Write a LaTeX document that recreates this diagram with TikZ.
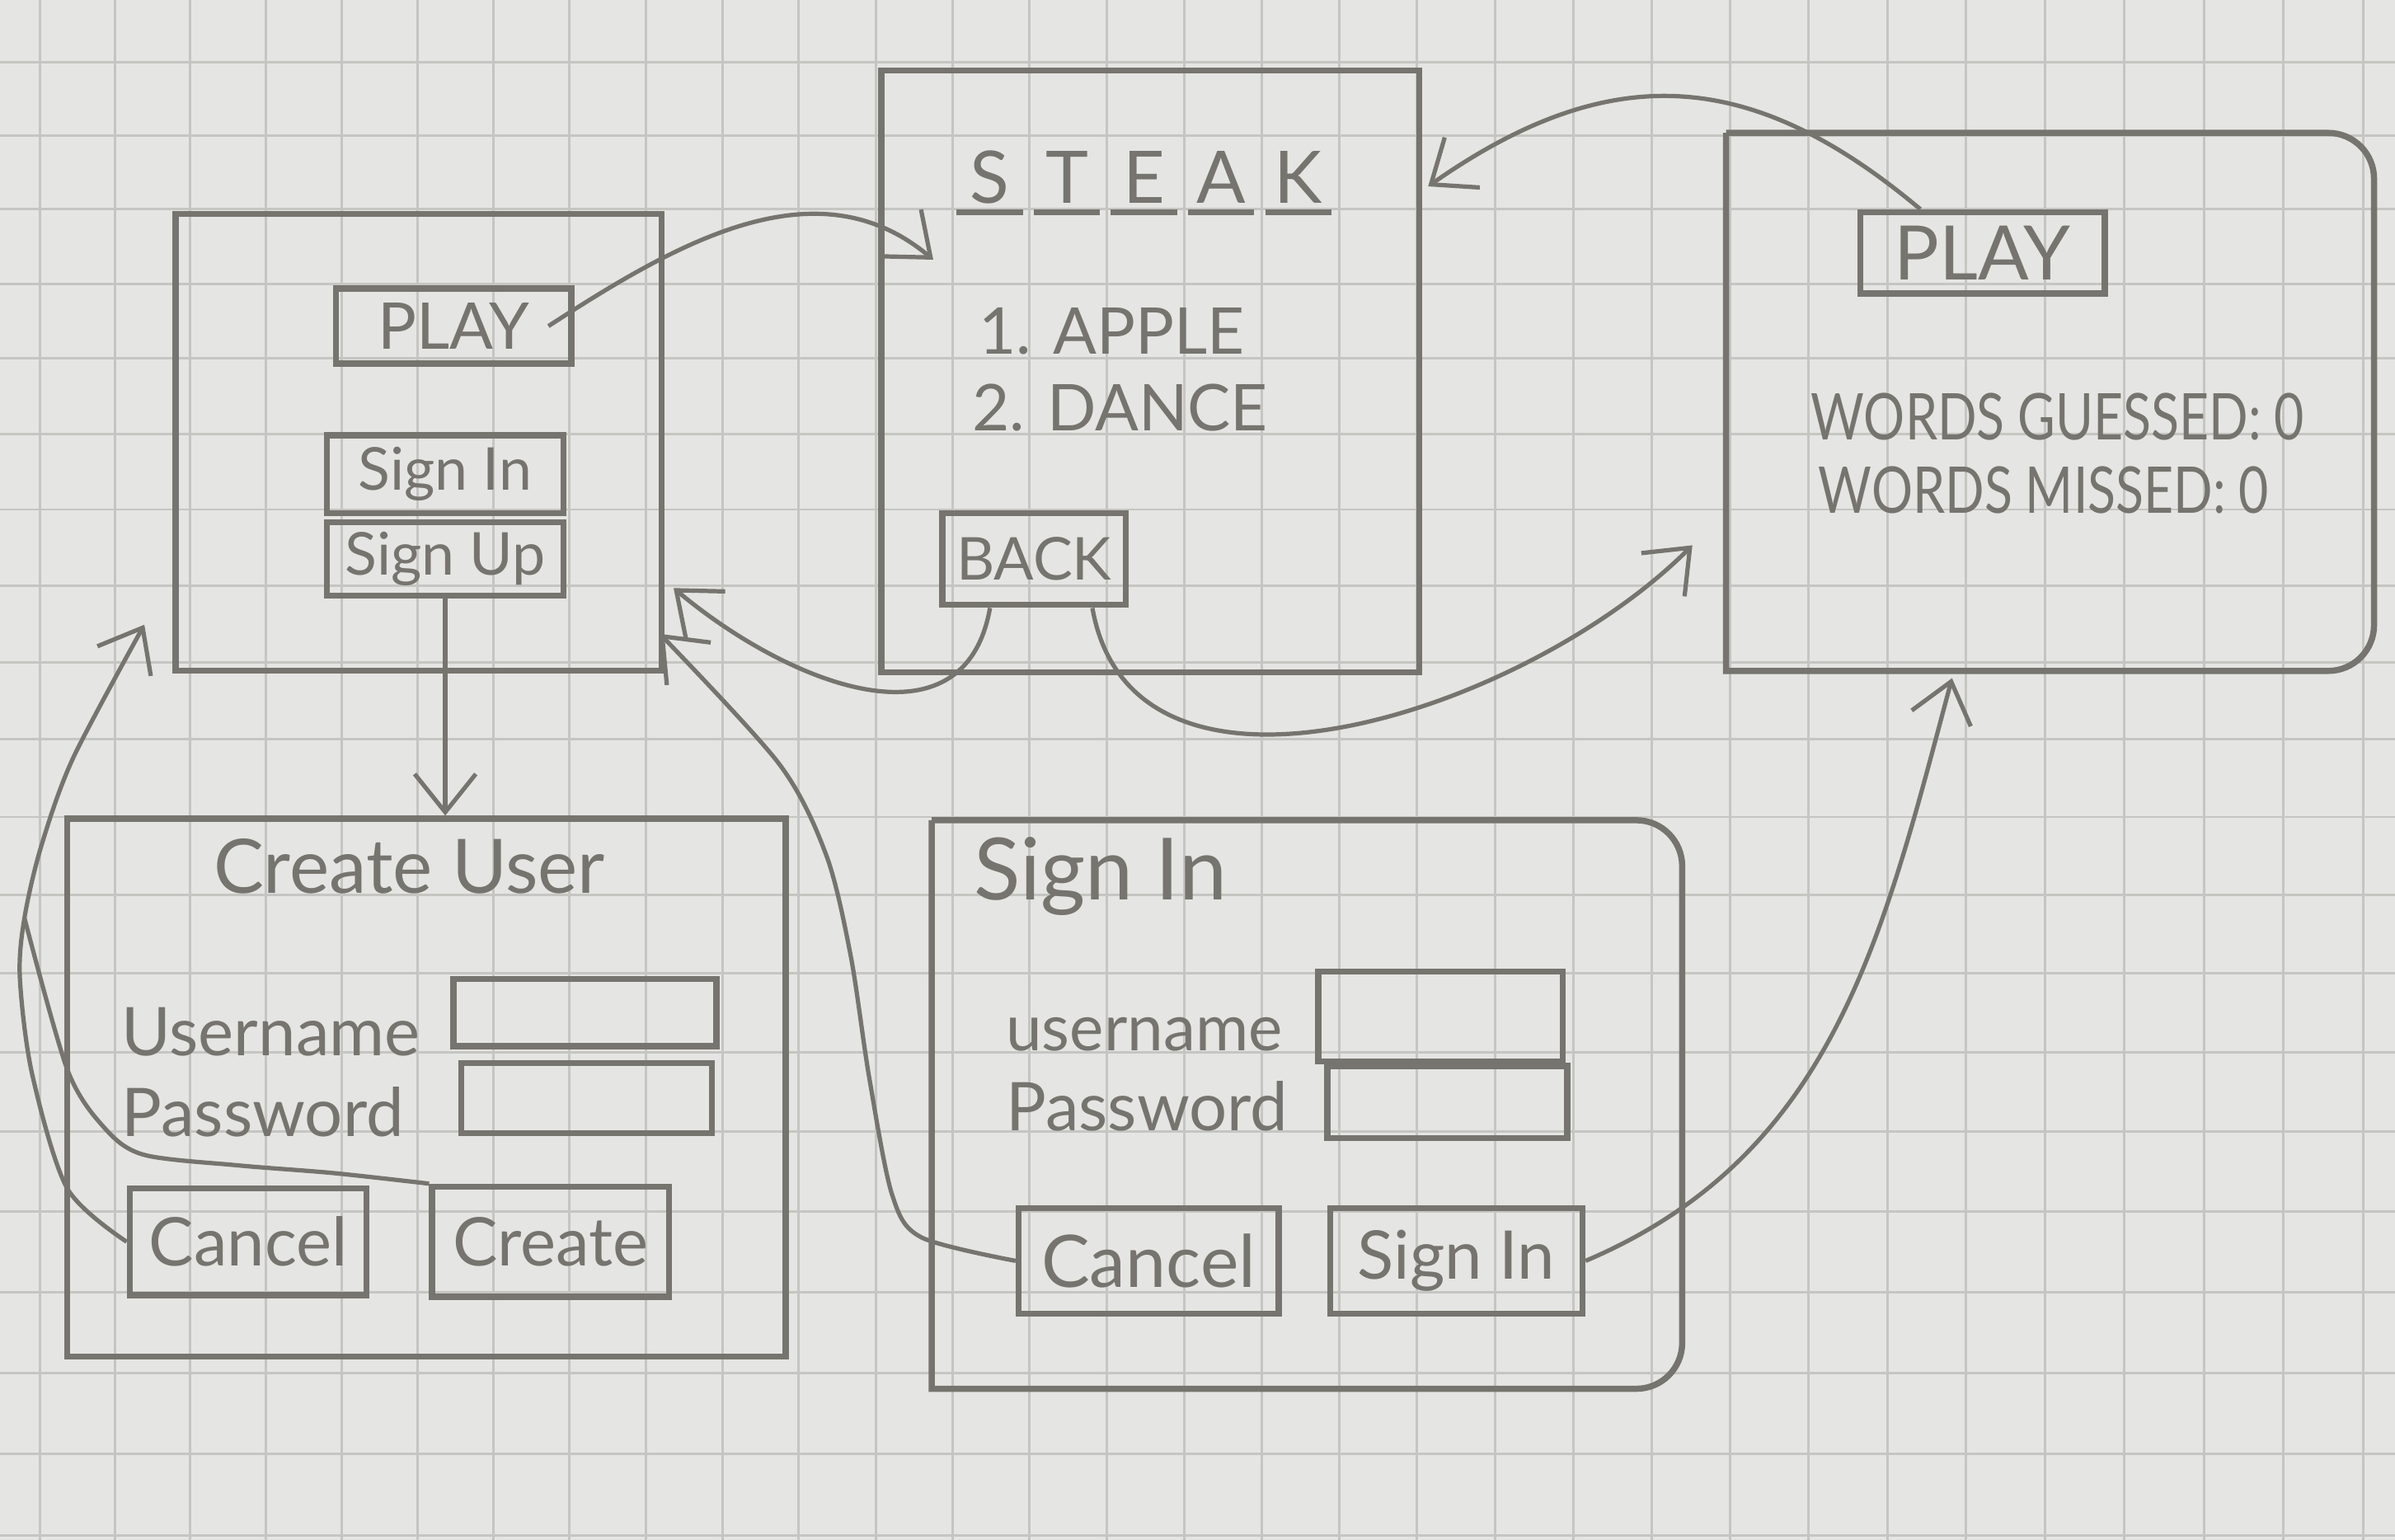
\documentclass[tikz,border=0pt]{standalone}
\usepackage{fontspec}
\setmainfont{Lato}
\newfontfamily\narrowhand{Lato}[FakeStretch=0.8]
\usetikzlibrary{arrows.meta,positioning}
\definecolor{paper}{RGB}{229,229,227}
\definecolor{gridc}{RGB}{197,197,194}
\definecolor{ink}{RGB}{118,116,110}
\newcommand\handsize[1]{\fontsize{#1}{#1}\selectfont}
\tikzset{>/.tip={Straight Barb[length=0.25cm,width=0.4cm]},
  gridline/.style={draw=gridc, line width=0.45pt},
  edge/.style={draw=ink, line width=1.15pt},
  screen/.style 2 args={edge, minimum width=#1, minimum height=#2, anchor=north west, inner sep=0pt},
  btn/.style 2 args={edge, minimum width=#1, minimum height=#2, inner sep=0pt, text=ink},
  lbl/.style={text=ink, inner sep=0pt},
  link/.style={draw=ink, line width=0.8pt, ->},
  strand/.style={draw=ink, line width=0.8pt}}

\begin{document}
\begin{tikzpicture}[x=0.01cm, y=0.01cm]
\useasboundingbox (0,0) rectangle (1568,-1008);
\fill[paper] (0,0) rectangle (1568,-1008);
\foreach \k in {0,...,30}
  \draw[gridline] ({26+49.2*\k+0.05*\k*\k},0) -- ++(0,-1008);
\foreach \k in {0,...,19}
  \draw[gridline] (0,{-40.5-47.95*\k-0.149*\k*\k}) -- ++(1568,0);

\node[screen={3.18cm}{2.99cm}] (home) at (113,-138) {};
\node[screen={3.52cm}{3.94cm}] (list) at (575,-44) {};
\node[screen={4.2cm}{3.48cm}, draw=none] (game) at (1130,-87) {};
\node[screen={4.7cm}{3.52cm}] (cuser) at (42,-534) {};
\node[screen={4.87cm}{3.68cm}, draw=none] (signin) at (610,-537) {};
\draw[edge] (game.north west) [rounded corners=0.3cm] -- (game.north east) -- (game.south east) [sharp corners] -- (game.south west) -- (game.north west);
\draw[edge] (signin.north west) [rounded corners=0.3cm] -- (signin.north east) -- (signin.south east) [sharp corners] -- (signin.south west) -- (signin.north west);

\node[btn={1.54cm}{0.49cm}, font=\handsize{12}] (hplay) at (297,-213.5) {PLAY};
\node[btn={1.55cm}{0.51cm}, font=\handsize{11}] (hsignin) at (291.5,-310.5) {Sign In};
\node[btn={1.55cm}{0.48cm}, font=\handsize{11}, below=0.02cm of hsignin] (hsignup) {Sign Up};

\foreach \ch [count=\i from 0] in {S,T,E,A,K}
{
  \node[lbl, font=\handsize{13.5}, minimum width=0.42cm, anchor=base] (w\i) at ({648+50.5*\i},-133) {\ch};
  \draw[edge] ([yshift=-0.06cm]w\i.base west) -- ([yshift=-0.06cm]w\i.base east);
}
\node[lbl, font=\handsize{12}, anchor=base west] (apple) at (640,-232) {1. APPLE};
\node[lbl, font=\handsize{12}, anchor=base west] (dance) at (636,-282) {2. DANCE};
\node[btn={1.2cm}{0.6cm}, font=\handsize{11}] (back) at (677,-366) {BACK};

\node[btn={1.6cm}{0.53cm}, font=\handsize{14}] (gplay) at (1298,-165.5) {PLAY};
\node[lbl, font=\narrowhand\handsize{12}, anchor=base west] (guessed) at (1185,-288) {WORDS GUESSED: 0};
\node[lbl, font=\narrowhand\handsize{12}, anchor=base west] (missed) at (1190,-336) {WORDS MISSED: 0};

\node[lbl, font=\handsize{14}, anchor=base] (cutitle) at (268,-585) {Create User};
\node[lbl, font=\handsize{12.5}, anchor=base west] (cuname) at (79,-691) {Username};
\node[btn={1.72cm}{0.44cm}] (cunamebox) at (383,-663) {};
\node[lbl, font=\handsize{12.5}, anchor=base west] (cupass) at (79,-744) {Password};
\node[btn={1.64cm}{0.46cm}] (cupassbox) at (384,-719) {};
\node[btn={1.55cm}{0.7cm}, font=\handsize{12.5}] (cucancel) at (162.5,-813) {Cancel};
\node[btn={1.55cm}{0.72cm}, font=\handsize{12.5}] (cucreate) at (360.5,-813) {Create};

\node[lbl, font=\handsize{16}, anchor=base west] (sititle) at (637,-589) {Sign In};
\node[lbl, font=\handsize{12}, anchor=base west] (siname) at (658,-688) {username};
\node[btn={1.6cm}{0.59cm}] (sinamebox) at (943,-665.5) {};
\node[lbl, font=\handsize{12.5}, anchor=base west] (sipass) at (658,-740) {Password};
\node[btn={1.57cm}{0.47cm}] (sipassbox) at (947.5,-721.5) {};
\node[btn={1.7cm}{0.69cm}, font=\handsize{13.5}] (sicancel) at (752,-825.5) {Cancel};
\node[btn={1.65cm}{0.69cm}, font=\handsize{12.5}] (sibtn) at (953.5,-825.5) {Sign In};

\coordinate (listl) at (611,-170);
\coordinate (listr) at (935,-122);
\coordinate (homer1) at (441,-385);
\coordinate (homer2) at (432,-415);
\coordinate (homel) at (94.5,-409);
\coordinate (gamel) at (1108,-357);
\coordinate (gameb) at (1278,-444);
\coordinate (join) at (16,-601);

\draw[link] ([xshift=-0.17cm]hplay.east) to[out=33,in=140] (listl);
\draw[link] (gplay.145) to[out=140,in=35,looseness=1.15] (listr);
\draw[link] (back.228) to[out=-100,in=-40,looseness=1.2] (homer1);
\draw[link] (back.-40) to[out=-80,in=-135] (gamel);
\draw[link] (hsignup.south) -- (hsignup.south |- cuser.north);
\draw[link] (sibtn.east) to[out=23,in=-105] (gameb);
\draw[link] plot[smooth] coordinates {(sicancel.west) (603,-810) (584,-782) (569,-705) (557,-626) (541,-560) (510,-500) (homer2)};
\draw[link] plot[smooth] coordinates {(cucancel.west) (44,-778) (21,-703) (13,-640) (join) (27,-554) (48,-496) (homel)};
\draw[strand] plot[smooth] coordinates {(cucreate.north west) (218,-768) (156,-763) (94,-756) (68,-738) (44,-700) (join)};
\end{tikzpicture}
\end{document}
